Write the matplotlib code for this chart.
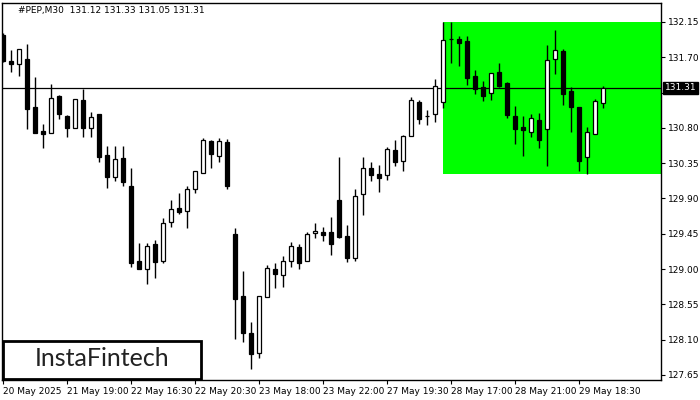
import numpy as np
import matplotlib
matplotlib.use("Agg")
import matplotlib.pyplot as plt
from matplotlib.patches import Rectangle
import matplotlib.transforms as mtransforms

# PEP M30 candles
opens = [131.98, 131.65, 131.61, 131.68, 131.07, 130.76, 130.73, 131.21, 130.95, 130.80,
         131.16, 130.80, 130.98, 130.45, 130.17, 130.42, 130.06, 129.10, 129.00, 129.32,
         129.10, 129.60, 129.78, 129.74, 130.02, 130.23, 130.63, 130.44, 130.62, 129.45,
         128.66, 128.19, 127.93, 128.64, 129.00, 128.92, 129.10, 129.28, 129.10, 129.46,
         129.47, 129.47, 129.88, 129.42, 129.14, 129.96, 130.29, 130.21, 130.20, 130.52,
         130.38, 130.70, 131.13, 130.95, 130.98, 131.13, 131.93, 131.93, 131.91, 131.46,
         131.32, 131.24, 131.51, 131.37, 130.95, 130.81, 130.75, 130.90, 130.79, 131.68,
         131.78, 131.27, 131.07, 130.43, 130.72, 131.12]
highs = [132.01, 131.79, 131.81, 131.87, 131.45, 130.85, 131.36, 131.22, 130.96, 131.17,
         131.30, 131.00, 130.98, 130.57, 130.57, 130.57, 130.29, 129.33, 129.33, 129.37,
         129.65, 129.88, 129.97, 130.06, 130.25, 130.67, 130.65, 130.67, 130.66, 129.52,
         128.98, 128.33, 128.66, 129.05, 129.08, 129.17, 129.35, 129.32, 129.47, 129.59,
         129.54, 129.66, 130.43, 129.56, 130.02, 130.43, 130.37, 130.33, 130.56, 130.65,
         130.71, 131.19, 131.16, 131.03, 131.42, 132.15, 132.15, 131.97, 131.97, 131.54,
         131.40, 131.50, 131.63, 131.39, 131.08, 130.95, 130.98, 130.99, 131.86, 132.05,
         131.81, 131.32, 131.07, 130.81, 131.17, 131.33]
lows = [131.64, 131.51, 131.46, 130.79, 130.73, 130.54, 130.73, 130.91, 130.68, 130.80,
        130.68, 130.68, 130.37, 130.03, 130.12, 130.06, 129.03, 129.00, 128.81, 128.89,
        129.08, 129.54, 129.70, 129.52, 129.97, 130.23, 130.29, 130.37, 130.02, 128.11,
        128.07, 127.73, 127.87, 128.64, 128.76, 128.77, 129.03, 129.00, 129.10, 129.40,
        129.36, 129.18, 129.40, 129.09, 129.10, 129.69, 130.12, 129.98, 130.14, 130.31,
        130.25, 130.70, 130.85, 130.84, 130.88, 131.05, 131.63, 131.59, 131.35, 131.23,
        131.14, 131.16, 131.32, 130.93, 130.59, 130.44, 130.68, 130.54, 130.31, 131.49,
        131.09, 130.75, 130.25, 130.21, 130.72, 131.05]
closes = [131.65, 131.61, 131.81, 131.04, 130.73, 130.72, 131.18, 130.98, 130.80, 131.17,
          130.80, 130.94, 130.43, 130.17, 130.40, 130.11, 129.08, 129.00, 129.29, 129.09,
          129.59, 129.77, 129.73, 130.02, 130.25, 130.65, 130.47, 130.63, 130.06, 128.62,
          128.19, 127.92, 128.66, 129.01, 128.94, 129.10, 129.29, 129.08, 129.45, 129.49,
          129.43, 129.32, 129.41, 129.14, 129.93, 130.29, 130.20, 130.16, 130.53, 130.37,
          130.70, 131.16, 130.91, 130.95, 131.33, 131.92, 131.93, 131.88, 131.44, 131.30,
          131.21, 131.50, 131.33, 130.96, 130.79, 130.77, 130.93, 130.65, 131.67, 131.79,
          131.23, 131.07, 130.38, 130.75, 131.14, 131.31]

tick_labels = ['20 May 2025', '21 May 19:00', '22 May 16:30', '22 May 20:30', '23 May 18:00',
               '23 May 22:00', '27 May 19:30', '28 May 17:00', '28 May 21:00', '29 May 18:30']
price_ticks = [127.65, 128.10, 128.55, 129.00, 129.45, 129.90, 130.35, 130.80, 131.25, 131.70, 132.15]

last_price = 131.31
zone_start = 55
zone_low, zone_high = 130.21, 132.15

FONT = 6.5

fig = plt.figure(figsize=(7, 4), dpi=100)
ax = fig.add_axes([2 / 700, 20 / 400, 659 / 700, 377 / 400])

x = np.arange(len(opens))
o = np.array(opens)
c = np.array(closes)
bull = c >= o

xmax = 82.25
ax.set_xlim(-0.125, xmax)
ax.set_ylim(127.586, 132.392)

# green pattern zone
ax.add_patch(Rectangle((zone_start, zone_low), xmax - zone_start, zone_high - zone_low,
                       facecolor='#00ff00', edgecolor='none', zorder=1))

ax.axhline(last_price, color='black', linewidth=0.9, zorder=2)

# wicks
ax.vlines(x, lows, highs, color='black', linewidth=1, zorder=3)
# bodies
bottoms = np.minimum(o, c)
heights = np.abs(c - o)
ax.bar(x, heights, bottom=bottoms, width=0.6,
       color=np.where(bull, 'white', 'black'), edgecolor='black', linewidth=0.9, zorder=4)

ax.yaxis.tick_right()
ax.set_yticks(price_ticks)
# 131.25 sits under the price tag, so its label is left blank
ax.set_yticklabels(['' if abs(p - last_price) < 0.1 else f'{p:.2f}' for p in price_ticks])
ax.set_xticks(np.arange(0, 80, 8))
ax.set_xticklabels(tick_labels, ha='left')
ax.tick_params(axis='both', labelsize=FONT, length=3, width=0.8, pad=2, colors='black')
for sp in ax.spines.values():
    sp.set_linewidth(1)
    sp.set_color('black')

# current price tag
trans = mtransforms.blended_transform_factory(ax.transAxes, ax.transData)
ax.text(1.006, last_price, f'{last_price:.2f}', transform=trans, ha='left', va='center',
        fontsize=FONT, color='white', clip_on=False, zorder=10,
        bbox=dict(facecolor='black', edgecolor='black', pad=1.2))

ax.text(16 / 659, 1 - 8 / 377, '#PEP,M30  131.12 131.33 131.05 131.31', transform=ax.transAxes,
        ha='left', va='center', fontsize=FONT, color='black')

# logo
fig.add_artist(Rectangle((3 / 700, 21 / 400), 198 / 700, 38 / 400, transform=fig.transFigure,
                         facecolor='white', edgecolor='black', linewidth=2, zorder=20))
fig.text(102 / 700, 41 / 400, 'InstaFintech', ha='center', va='center', fontsize=18,
         family='Lato', color='#222222', zorder=21)

plt.savefig('out.png', dpi=100)
plt.close()
